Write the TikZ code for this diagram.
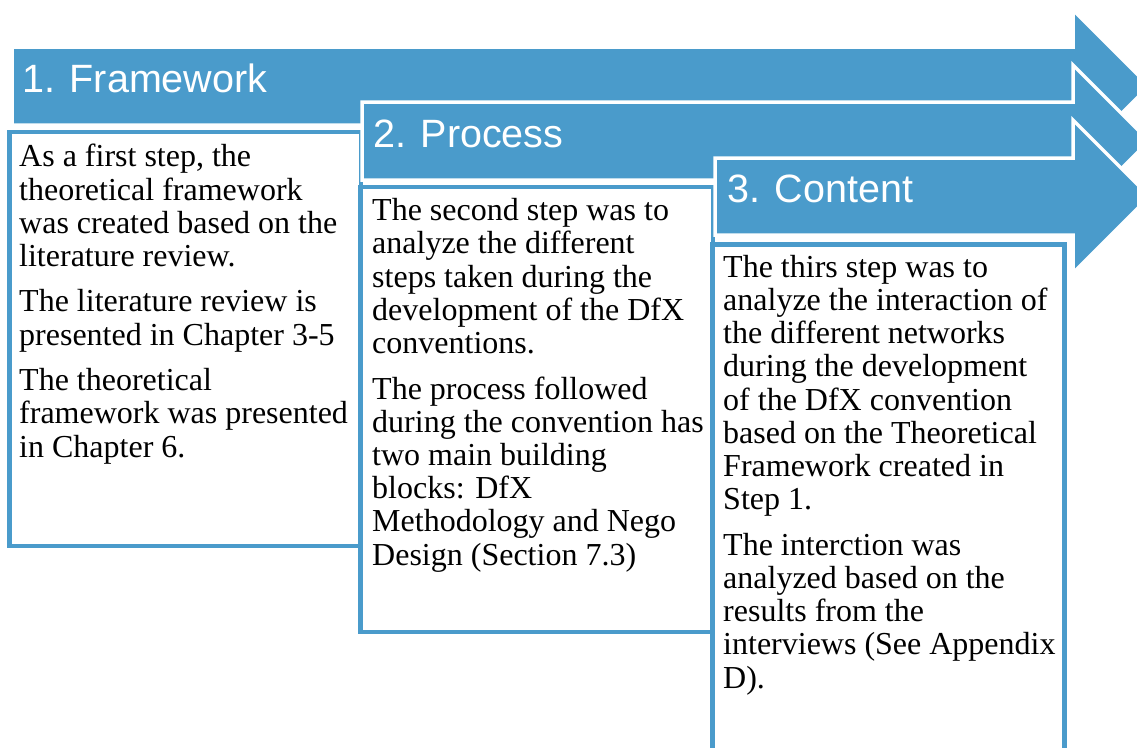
\documentclass[tikz,border=0pt]{standalone}
\usepackage{fontspec}
\setmainfont{Liberation Serif}
\newfontfamily\headfont{Liberation Sans}
\definecolor{stepblue}{RGB}{74,155,203}
\tikzset{
	steparrow/.style={fill=stepblue, draw=white, line width=3.5pt, line join=miter},
	stepbox/.style={fill=white, draw=stepblue, line width=4.5pt},
	headtext/.style={anchor=base west, inner sep=0pt, text=white, font=\headfont\fontsize{39.5}{42}\selectfont},
	bodytext/.style={anchor=base west, inner sep=0pt, align=left, font=\fontsize{32}{33.2}\selectfont},
}
\newcommand{\parskipbox}{\\[12.3pt]}

\begin{document}
\begin{tikzpicture}[x=1pt, y=-1pt]
		\useasboundingbox (0,0) rectangle (1137,747);
		\clip (0,0) rectangle (1137,747);
		
		% Step 1: arrow and box (text placed by its last baseline)
		\draw[steparrow] (12,47) -- (1073,47) -- (1073,10) -- (1149,86) -- (1073,162) -- (1073,125) -- (12,125) -- cycle;
		\node[headtext] (framework) at (22,92) {1. Framework};
		\draw[stepbox] (9.5,132) rectangle (361,546);
		\node[bodytext] (frametext) at (19,457) {As a first step, the\\ theoretical framework\\ was created based on the\\ literature review.\parskipbox
			The literature review is\\ presented in Chapter 3-5\parskipbox
			The theoretical\\ framework was presented\\ in Chapter 6.};
		
		% Step 2: arrow and box
		\draw[steparrow] (362,102) -- (1073,102) -- (1073,65) -- (1149,141) -- (1073,217) -- (1073,180) -- (362,180) -- cycle;
		\node[headtext] (process) at (373,147) {2. Process};
		\draw[stepbox] (360.5,187) rectangle (713,632);
		\node[bodytext] (processtext) at (372,565) {The second step was to\\ analyze the different\\ steps taken during the\\ development of the DfX\\ conventions.\parskipbox
			The process followed\\ during the convention has\\ two main building\\ blocks: DfX\\ Methodology and Nego\\ Design (Section 7.3)};
		
		% Step 3: arrow and box
		\draw[steparrow] (715,158) -- (1073,158) -- (1073,120) -- (1149.5,196.5) -- (1073,273) -- (1073,235) -- (715,235) -- cycle;
		\node[headtext] (content) at (727,202) {3. Content};
		\draw[stepbox] (712.5,244.5) rectangle (1064.5,780);
		\node[bodytext] (contenttext) at (723,688) {The thirs step was to\\ analyze the interaction of\\ the different networks\\ during the development\\ of the DfX convention\\ based on the Theoretical\\ Framework created in\\ Step 1.\parskipbox
			The interction was\\ analyzed based on the\\ results from the\\ interviews (See Appendix\\ D).};
	\end{tikzpicture}
\end{document}
